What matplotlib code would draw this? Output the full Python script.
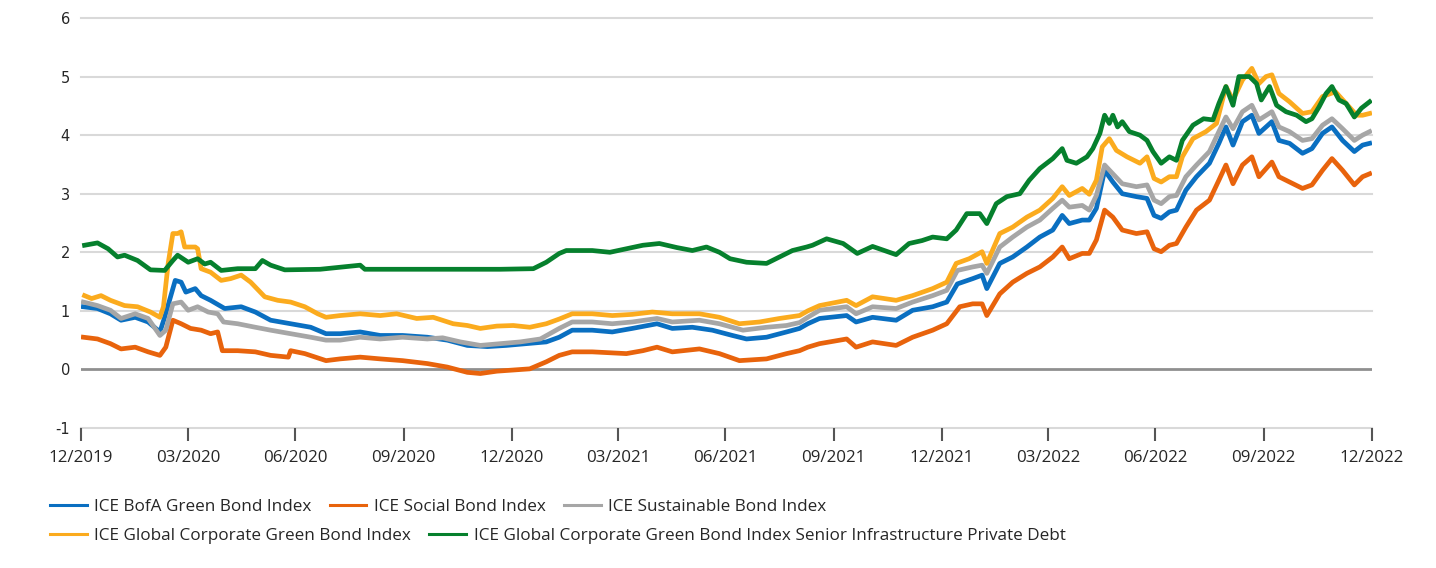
import matplotlib
matplotlib.use("Agg")
import matplotlib.pyplot as plt
from matplotlib.lines import Line2D
import pandas as pd

plt.rcParams['font.family'] = ['Open Sans', 'DejaVu Sans']

START = "2019-12-31"

# ---- data: (days since 31/12/2019, yield %) ----
green_days = [3, 14, 23, 31, 37, 48, 59, 71, 78, 82, 91, 99, 105, 110, 119, 133, 148, 154, 161, 173,
              203, 237, 241, 271, 313, 356, 384, 395, 406, 412, 417, 434, 449, 463, 477, 491, 506, 519,
              531, 542, 551, 565, 582, 593, 604, 616, 621, 633, 647, 659, 672, 682, 692, 703, 714, 723,
              735, 743, 752, 763, 769, 777, 786, 797, 805, 814, 825, 833, 837, 845, 854, 859, 865, 869,
              873, 876, 880, 884, 890, 899, 905, 910, 917, 924, 930, 935, 944, 953, 961, 966, 972, 978,
              983, 992, 998, 1002, 1009, 1015, 1023, 1032, 1040, 1045, 1051, 1057, 1062, 1068, 1074,
              1081, 1087, 1094]
green_vals = [2.12, 2.16, 2.06, 1.92, 1.95, 1.86, 1.70, 1.69, 1.86, 1.95, 1.83, 1.89, 1.80, 1.83, 1.69,
              1.72, 1.72, 1.86, 1.78, 1.70, 1.71, 1.78, 1.71, 1.71, 1.71, 1.71, 1.72, 1.83, 1.98, 2.03,
              2.03, 2.03, 2.00, 2.06, 2.12, 2.15, 2.08, 2.03, 2.09, 2.00, 1.89, 1.83, 1.81, 1.92, 2.03,
              2.09, 2.12, 2.23, 2.15, 1.98, 2.10, 2.03, 1.96, 2.15, 2.20, 2.26, 2.23, 2.38, 2.66, 2.66,
              2.49, 2.83, 2.95, 3.00, 3.23, 3.43, 3.60, 3.77, 3.57, 3.52, 3.63, 3.77, 4.03, 4.34, 4.20,
              4.34, 4.14, 4.23, 4.06, 4.00, 3.91, 3.72, 3.52, 3.63, 3.57, 3.91, 4.17, 4.28, 4.26, 4.54,
              4.83, 4.51, 5.00, 5.00, 4.88, 4.60, 4.83, 4.51, 4.40, 4.34, 4.23, 4.28, 4.48, 4.71, 4.83,
              4.60, 4.54, 4.31, 4.46, 4.57]

yellow_days = [3, 9, 17, 25, 37, 48, 59, 67, 70, 74, 78, 82, 85, 88, 97, 99, 102, 110, 119, 127, 136,
               144, 156, 167, 178, 190, 201, 208, 220, 237, 254, 268, 285, 299, 316, 328, 339, 353, 367,
               381, 395, 406, 417, 434, 451, 468, 485, 502, 525, 542, 559, 576, 593, 610, 617, 627, 650,
               658, 672, 692, 706, 723, 735, 743, 754, 765, 769, 780, 791, 803, 814, 825, 833, 839, 850,
               856, 862, 867, 873, 879, 888, 899, 905, 911, 917, 924, 930, 935, 944, 955, 964, 972, 978,
               986, 994, 1000, 1006, 1011, 1017, 1026, 1037, 1045, 1054, 1065, 1074, 1083, 1088, 1094]
yellow_vals = [1.26, 1.21, 1.26, 1.18, 1.09, 1.07, 0.98, 0.89, 1.07, 1.81, 2.32, 2.32, 2.35, 2.09, 2.09,
               2.06, 1.72, 1.66, 1.52, 1.55, 1.61, 1.49, 1.24, 1.18, 1.15, 1.07, 0.95, 0.89, 0.92, 0.95,
               0.92, 0.95, 0.87, 0.89, 0.78, 0.75, 0.70, 0.74, 0.75, 0.72, 0.78, 0.86, 0.95, 0.95, 0.92,
               0.94, 0.98, 0.95, 0.95, 0.89, 0.78, 0.81, 0.87, 0.92, 1.00, 1.09, 1.18, 1.09, 1.24, 1.18,
               1.26, 1.38, 1.49, 1.81, 1.89, 2.01, 1.81, 2.32, 2.43, 2.60, 2.72, 2.92, 3.12, 2.97, 3.09,
               2.99, 3.23, 3.80, 3.94, 3.74, 3.63, 3.52, 3.63, 3.26, 3.20, 3.29, 3.29, 3.63, 3.94, 4.06,
               4.20, 4.83, 4.60, 4.94, 5.14, 4.88, 5.00, 5.03, 4.71, 4.57, 4.37, 4.40, 4.66, 4.74, 4.54,
               4.34, 4.34, 4.37]

blue_days = [2, 14, 25, 34, 46, 57, 67, 71, 80, 85, 89, 97, 102, 110, 122, 136, 148, 161, 178, 195, 208,
             220, 237, 254, 273, 294, 311, 328, 345, 361, 378, 395, 406, 417, 434, 451, 468, 489, 502,
             519, 536, 553, 565, 582, 599, 610, 617, 627, 650, 658, 672, 692, 706, 723, 735, 744, 757,
             765, 769, 780, 791, 803, 814, 825, 833, 839, 850, 856, 862, 869, 876, 884, 896, 905, 911,
             917, 924, 930, 938, 947, 958, 966, 972, 978, 986, 994, 1000, 1011, 1017, 1026, 1037, 1045,
             1054, 1062, 1071, 1081, 1088, 1094]
blue_vals = [1.07, 1.04, 0.95, 0.84, 0.89, 0.81, 0.64, 0.89, 1.52, 1.49, 1.32, 1.38, 1.26, 1.18, 1.04,
             1.07, 0.98, 0.84, 0.78, 0.72, 0.61, 0.61, 0.64, 0.58, 0.58, 0.55, 0.50, 0.41, 0.39, 0.41,
             0.44, 0.47, 0.55, 0.67, 0.67, 0.64, 0.70, 0.78, 0.70, 0.72, 0.67, 0.58, 0.52, 0.55, 0.64,
             0.70, 0.78, 0.87, 0.92, 0.81, 0.89, 0.84, 1.01, 1.07, 1.15, 1.46, 1.55, 1.61, 1.38, 1.81,
             1.92, 2.09, 2.26, 2.38, 2.63, 2.49, 2.55, 2.55, 2.75, 3.40, 3.20, 3.00, 2.95, 2.92, 2.63,
             2.58, 2.69, 2.72, 3.06, 3.29, 3.52, 3.86, 4.14, 3.83, 4.23, 4.34, 4.03, 4.23, 3.91, 3.86,
             3.69, 3.77, 4.03, 4.14, 3.91, 3.72, 3.83, 3.86]

grey_days = [2, 14, 25, 34, 46, 57, 67, 72, 78, 85, 91, 99, 108, 116, 121, 133, 148, 161, 178, 195, 208,
             220, 237, 254, 273, 294, 307, 322, 339, 356, 373, 390, 406, 417, 434, 451, 468, 489, 502,
             525, 542, 562, 582, 599, 610, 617, 627, 650, 658, 672, 692, 706, 723, 735, 744, 757, 765,
             769, 780, 791, 803, 814, 825, 833, 839, 850, 856, 862, 869, 876, 884, 896, 905, 911, 917,
             924, 930, 938, 947, 958, 966, 972, 978, 986, 994, 1000, 1011, 1017, 1026, 1037, 1045, 1054,
             1062, 1071, 1081, 1088, 1094]
grey_vals = [1.15, 1.09, 1.01, 0.87, 0.95, 0.87, 0.58, 0.67, 1.12, 1.15, 1.01, 1.07, 0.98, 0.95, 0.81,
             0.78, 0.72, 0.67, 0.61, 0.55, 0.50, 0.50, 0.55, 0.52, 0.55, 0.52, 0.54, 0.47, 0.41, 0.44,
             0.47, 0.52, 0.70, 0.81, 0.81, 0.78, 0.81, 0.87, 0.81, 0.84, 0.78, 0.67, 0.72, 0.75, 0.80,
             0.89, 1.01, 1.07, 0.95, 1.07, 1.04, 1.15, 1.26, 1.35, 1.69, 1.75, 1.78, 1.64, 2.09, 2.26,
             2.43, 2.55, 2.75, 2.89, 2.77, 2.80, 2.72, 2.97, 3.49, 3.34, 3.17, 3.12, 3.15, 2.89, 2.83,
             2.95, 2.97, 3.29, 3.49, 3.72, 4.06, 4.31, 4.11, 4.40, 4.51, 4.26, 4.40, 4.14, 4.06, 3.91,
             3.94, 4.17, 4.28, 4.11, 3.91, 4.00, 4.06]

orange_days = [2, 14, 25, 34, 46, 57, 67, 72, 78, 85, 93, 102, 110, 116, 120, 133, 148, 161, 176, 178,
               190, 208, 220, 237, 254, 273, 294, 311, 328, 339, 353, 367, 381, 395, 406, 417, 434, 463,
               477, 489, 502, 525, 542, 559, 582, 599, 610, 617, 627, 650, 658, 672, 692, 706, 723, 735,
               746, 757, 765, 769, 780, 791, 803, 814, 825, 833, 839, 850, 856, 862, 869, 876, 884, 896,
               905, 911, 917, 924, 930, 938, 947, 958, 966, 972, 978, 986, 994, 1000, 1011, 1017, 1026,
               1037, 1045, 1054, 1062, 1071, 1081, 1088, 1094]
orange_vals = [0.55, 0.52, 0.44, 0.35, 0.38, 0.30, 0.24, 0.38, 0.84, 0.78, 0.70, 0.67, 0.61, 0.64, 0.32,
               0.32, 0.30, 0.24, 0.21, 0.32, 0.27, 0.15, 0.18, 0.21, 0.18, 0.15, 0.10, 0.04, -0.05, -0.07,
               -0.03, -0.01, 0.01, 0.13, 0.24, 0.30, 0.30, 0.27, 0.32, 0.38, 0.30, 0.35, 0.27, 0.15, 0.18,
               0.27, 0.32, 0.38, 0.44, 0.52, 0.38, 0.47, 0.41, 0.55, 0.67, 0.78, 1.07, 1.12, 1.12, 0.92,
               1.29, 1.49, 1.64, 1.75, 1.92, 2.09, 1.89, 1.98, 1.98, 2.21, 2.72, 2.60, 2.38, 2.32, 2.35,
               2.06, 2.01, 2.12, 2.15, 2.43, 2.72, 2.89, 3.23, 3.49, 3.17, 3.49, 3.63, 3.29, 3.54, 3.29,
               3.20, 3.09, 3.15, 3.40, 3.60, 3.40, 3.15, 3.29, 3.34]

series_names = ["ICE BofA Green Bond Index", "ICE Social Bond Index", "ICE Sustainable Bond Index",
                "ICE Global Corporate Green Bond Index",
                "ICE Global Corporate Green Bond Index Senior Infrastructure Private Debt"]
series_colors = ["#0a6fc1", "#e8630c", "#a6a6a6", "#fbab1e", "#06802d"]

tick_dates = ["2019-12-31", "2020-03-31", "2020-06-30", "2020-09-30", "2020-12-31", "2021-03-31",
              "2021-06-30", "2021-09-30", "2021-12-31", "2022-03-31", "2022-06-30", "2022-09-30",
              "2022-12-31"]
tick_labels = ["12/2019", "03/2020", "06/2020", "09/2020", "12/2020", "03/2021", "06/2021", "09/2021",
               "12/2021", "03/2022", "06/2022", "09/2022", "12/2022"]
y_ticks = [-1, 0, 1, 2, 3, 4, 5, 6]

# ---- figure ----
fig = plt.figure(figsize=(14.36, 5.68), dpi=100)
ax = fig.add_axes([81 / 1436, 1 - 428 / 568, (1372 - 81) / 1436, (428 - 18) / 568])

start = pd.Timestamp(START)
def to_dates(days):
    return start + pd.to_timedelta(days, unit="D")

all_series = [(blue_days, blue_vals), (orange_days, orange_vals), (grey_days, grey_vals),
              (yellow_days, yellow_vals), (green_days, green_vals)]

for y in y_ticks:
    if y == 0:
        continue
    ax.axhline(y, color="#d9d9d9", lw=1.5, zorder=0, clip_on=False)
ax.axhline(0, color="#8f8f8f", lw=2.0, zorder=1)

for (d, v), name, col in zip(all_series, series_names, series_colors):
    ax.plot(to_dates(d), v, color=col, lw=3.4, solid_joinstyle="round", label=name, zorder=3)

ax.set_xlim(pd.Timestamp(tick_dates[0]), pd.Timestamp(tick_dates[-1]))
ax.set_ylim(-1, 6)
ax.set_xticks([pd.Timestamp(t) for t in tick_dates])
ax.set_xticklabels(tick_labels)
ax.set_yticks(y_ticks)
ax.set_yticklabels([str(t) for t in y_ticks])

for s in ax.spines.values():
    s.set_visible(False)
ax.tick_params(axis="x", direction="out", length=9, width=1.5, color="#555555",
               labelsize=12.2, labelcolor="#262626", pad=6.5)
ax.tick_params(axis="y", length=0, labelsize=10.5, labelcolor="#262626", pad=8)
for lbl in ax.get_yticklabels():
    lbl.set_fontfamily(["DejaVu Sans"])

# ---- legend (two flowing rows) ----
handles = [Line2D([0], [0], color=c, lw=2.2) for c in series_colors]
leg_kw = dict(frameon=False, prop={"family": ["Open Sans"], "size": 12.3}, handlelength=2.15,
              handletextpad=0.45, columnspacing=1.05, borderaxespad=0, borderpad=0,
              labelcolor="#262626")
leg1 = fig.legend(handles[:3], series_names[:3], ncol=3, loc="center left",
                  bbox_to_anchor=(50 / 1436, 1 - 507 / 568), **leg_kw)
leg2 = fig.legend(handles[3:], series_names[3:], ncol=2, loc="center left",
                  bbox_to_anchor=(50 / 1436, 1 - 536 / 568), **leg_kw)

fig.savefig("out.png", dpi=100, facecolor="white")
